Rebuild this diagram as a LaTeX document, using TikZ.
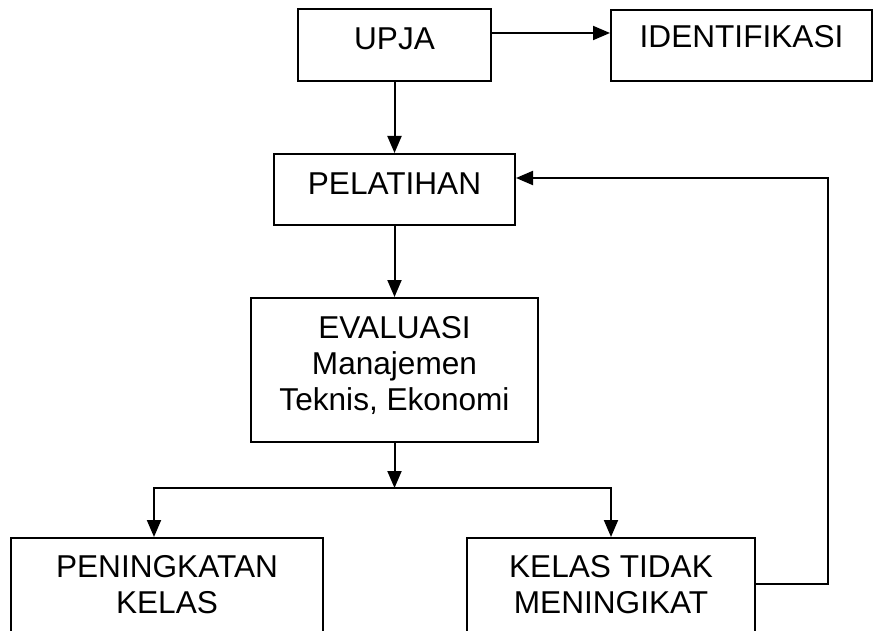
\documentclass[tikz,border=0pt]{standalone}
\usepackage{fontspec}
\setmainfont{Liberation Sans}
\usepackage{tikz}
\usetikzlibrary{positioning,arrows.meta}

\begin{document}
\begin{tikzpicture}[
  x=0.5pt, y=-0.5pt,
  >={Triangle[length=8.5pt,width=7pt]},
  every node/.style={font=\fontsize{15.8}{18}\selectfont},
  box/.style={draw, line width=1pt, inner sep=0pt, align=center, anchor=north},
  link/.style={->, line width=1pt}
]
\useasboundingbox (0,0) rectangle (873,631);
\clip (0,0) rectangle (873,631);

\node[box, minimum width=96.5pt, text height=20.5pt, text depth=15.5pt] (upja) at (394.5,8) {UPJA};
\node[box, minimum width=130.5pt, text height=19pt, text depth=16.5pt] (ident) at (741.5,9) {IDENTIFIKASI};
\node[box, minimum width=120.5pt, text height=20pt, text depth=15.5pt] (pelatihan) at (394.5,153) {PELATIHAN};
\node[box, minimum width=143.5pt, text height=56pt, text depth=16pt] (evaluasi) at (394.5,297)
  {EVALUASI\\Manajemen\\Teknis, Ekonomi};
\node[box, minimum width=156pt, text height=37.5pt, text depth=24pt] (naik) at (167,537)
  {PENINGKATAN\\KELAS};
\node[box, minimum width=144pt, text height=37.5pt, text depth=24pt] (tetap) at (611,537)
  {KELAS TIDAK\\MENINGIKAT};

% cabang ke dua hasil
\coordinate (cabang) at (394.5,488);

\draw[link] ([yshift=6pt]upja.east) -- ([yshift=6pt]upja.east -| ident.west);
\draw[link] (upja.south) -- (pelatihan.north);
\draw[link] (pelatihan.south) -- (evaluasi.north);
\draw[link] (evaluasi.south) -- (cabang);
\draw[link] (cabang) -| ([xshift=-6.5pt]naik.north);
\draw[link] (cabang) -| (tetap.north);
\draw[link] ([yshift=-23.5pt]tetap.north east) -- ++(72,0) |- ([yshift=5.75pt]pelatihan.east);
\end{tikzpicture}
\end{document}
